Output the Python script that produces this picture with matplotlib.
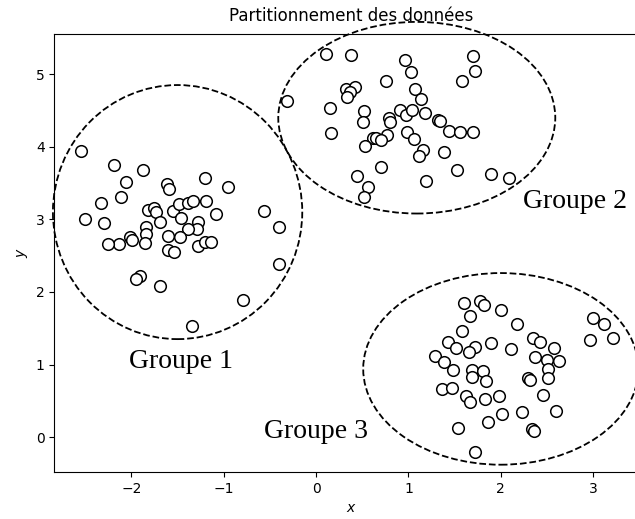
import matplotlib
matplotlib.use("Agg")
import matplotlib.pyplot as plt
from matplotlib.patches import Ellipse

# points, one pair of lists per group
group1_x = [-2.545, -2.186, -1.879, -2.058, -1.612, -1.597, -1.202, -0.955,
            -2.327, -2.110, -2.507, -2.300, -1.822, -1.757, -1.735, -1.686,
            -1.550, -1.485, -1.458, -1.392, -1.329, -1.188, -1.086, -1.278,
            -1.286, -1.392, -1.474, -1.843, -1.843, -1.854, -2.010, -1.995,
            -2.134, -2.253, -1.604, -1.601, -1.539, -1.284, -1.202, -1.142,
            -0.566, -0.405, -0.398, -1.909, -1.949, -1.688, -0.795, -1.341]
group1_y = [3.940, 3.748, 3.679, 3.514, 3.493, 3.417, 3.565, 3.449,
            3.225, 3.307, 3.011, 2.949, 3.128, 3.163, 3.097, 2.963,
            3.115, 3.218, 3.025, 3.225, 3.252, 3.256, 3.077, 2.970,
            2.867, 2.867, 2.750, 2.894, 2.798, 2.670, 2.750, 2.715,
            2.667, 2.667, 2.766, 2.571, 2.550, 2.633, 2.684, 2.681,
            3.115, 2.894, 2.385, 2.224, 2.175, 2.082, 1.883, 1.525]

group2_x = [-0.318, 0.110, 0.374, 0.961, 1.703, 1.718, 1.577, 1.029,
            0.757, 0.323, 0.423, 0.371, 0.336, 1.070, 1.135, 0.146,
            0.518, 0.504, 0.784, 0.798, 0.910, 0.977, 1.042, 1.180,
            1.325, 1.341, 1.434, 1.555, 1.703, 0.157, 0.983, 1.055,
            0.771, 0.616, 0.653, 0.708, 0.532, 1.157, 1.115, 1.387,
            0.708, 0.442, 0.559, 0.517, 1.192, 1.529, 1.898, 2.088]
group2_y = [4.628, 5.279, 5.266, 5.197, 5.252, 5.037, 4.904, 5.023,
            4.904, 4.794, 4.821, 4.748, 4.688, 4.789, 4.659, 4.528,
            4.498, 4.335, 4.394, 4.339, 4.500, 4.443, 4.505, 4.463,
            4.374, 4.360, 4.213, 4.202, 4.202, 4.184, 4.209, 4.105,
            4.156, 4.126, 4.126, 4.088, 4.009, 3.958, 3.876, 3.922,
            3.720, 3.600, 3.441, 3.307, 3.532, 3.679, 3.631, 3.569]

group3_x = [1.602, 1.778, 1.822, 1.997, 1.667, 2.176, 1.577, 1.423,
            1.515, 1.722, 1.657, 1.893, 2.111, 2.347, 2.423, 2.573,
            1.292, 1.383, 1.486, 1.691, 1.805, 1.689, 1.845, 2.368,
            2.497, 2.627, 2.510, 2.508, 2.292, 2.320, 1.368, 1.468,
            1.627, 1.667, 1.833, 1.985, 2.458, 2.225, 2.012, 1.858,
            2.602, 1.539, 2.343, 2.360, 1.720, 2.993, 3.116, 2.961, 3.218]
group3_y = [1.852, 1.869, 1.817, 1.752, 1.669, 1.555, 1.459, 1.316,
            1.233, 1.236, 1.167, 1.301, 1.215, 1.360, 1.314, 1.233,
            1.119, 1.036, 0.926, 0.926, 0.908, 0.826, 0.778, 1.098,
            1.064, 1.054, 0.940, 0.819, 0.812, 0.789, 0.661, 0.674,
            0.571, 0.482, 0.531, 0.564, 0.578, 0.352, 0.321, 0.215,
            0.366, 0.125, 0.105, 0.084, -0.206, 1.635, 1.559, 1.343, 1.364]

# hand drawn group outlines: centre, width, height
ellipse_centres = [(-1.5, 3.1), (1.09, 4.40), (2.0, 0.94)]
ellipse_sizes = [(2.7, 3.5), (3.0, 2.64), (2.98, 2.64)]

labels = ["Groupe 1", "Groupe 2", "Groupe 3"]
label_pos = [(-2.03, 0.95), (2.24, 3.15), (-0.56, -0.01)]


def main():
    fig = plt.figure(figsize=(6.35, 5.19), dpi=100)
    # the frame runs a little past the right edge of the picture
    ax = fig.add_axes([0.0858, 0.0906, 0.935, 0.8439])

    for xs, ys in [(group1_x, group1_y), (group2_x, group2_y), (group3_x, group3_y)]:
        ax.scatter(xs, ys, s=70, facecolors='white', edgecolors='black',
                   linewidths=1.1, zorder=3)

    # keep the limits the points give, the outlines spill over the frame
    xlim = ax.get_xlim()
    ylim = ax.get_ylim()

    for (cx, cy), (w, h) in zip(ellipse_centres, ellipse_sizes):
        ax.add_patch(Ellipse((cx, cy), w, h, fill=False, edgecolor='black',
                             linestyle='--', linewidth=1.3, clip_on=False))

    for text, (tx, ty) in zip(labels, label_pos):
        ax.text(tx, ty, text, fontsize=20, family='Liberation Serif')

    ax.set_xlim(xlim[0], xlim[1] + 0.09)
    ax.set_ylim(ylim)
    ax.spines['right'].set_visible(False)
    ax.set_title('Partitionnement des données', pad=9)
    ax.set_xlabel('$x$')
    ax.set_ylabel('$y$')

    fig.savefig('out.png', dpi=100)


if __name__ == "__main__":
    main()
